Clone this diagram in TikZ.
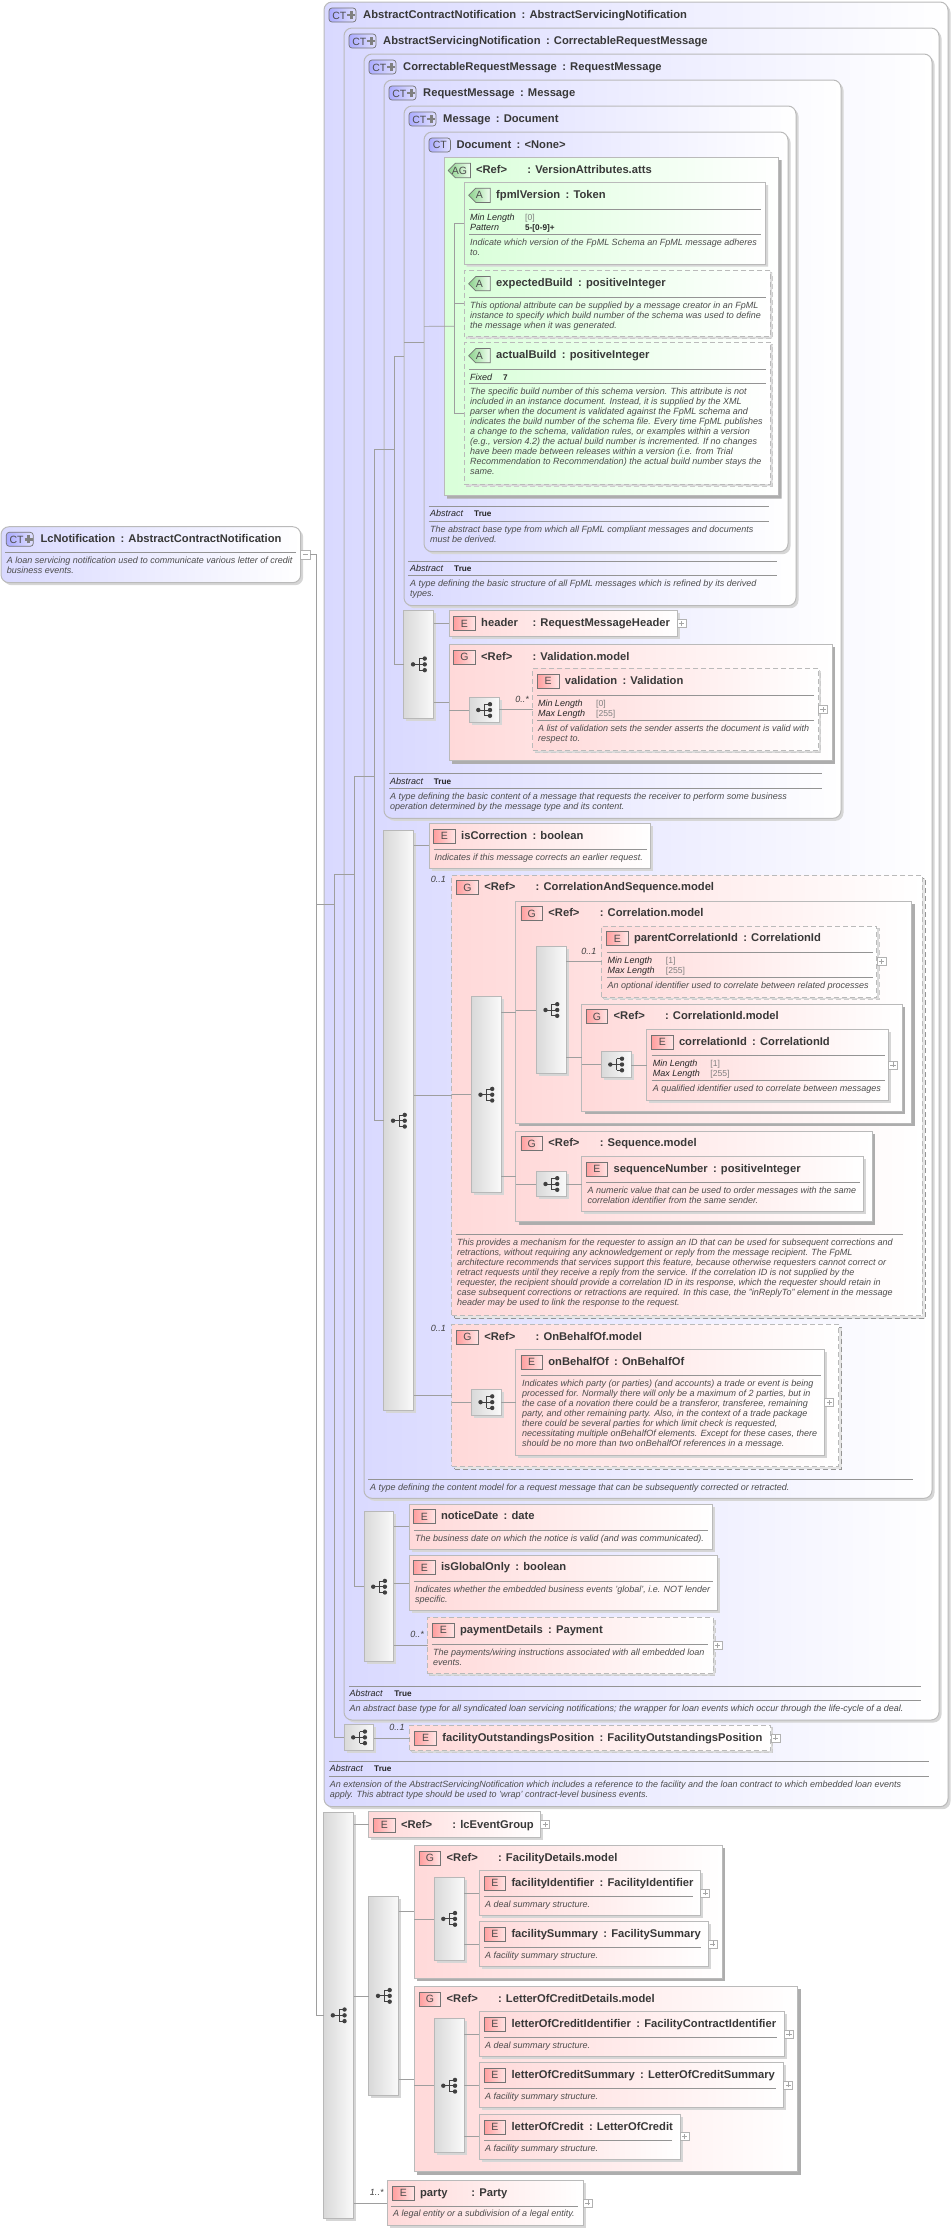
\documentclass[tikz,border=0pt]{standalone}
\usepackage{fontspec}
\setmainfont{Liberation Sans}
\usetikzlibrary{shapes.misc,shadows}

\definecolor{ctfill}{HTML}{D9D9FF}
\definecolor{elfill}{HTML}{FFD9D9}
\definecolor{agfill}{HTML}{D9FFD9}

\tikzset{
	softshadow/.style={general shadow={shadow xshift=2.5pt,shadow yshift=-2.5pt,fill=black!16}},
	hardshadow/.style={general shadow={shadow xshift=3pt,shadow yshift=-3pt,fill=black!32}},
	dashshadow/.style={general shadow={shadow xshift=3pt,shadow yshift=-3pt,fill=black!10,draw=black!42,line width=1pt,dash pattern=on 5pt off 3pt}},
	softdash/.style={general shadow={shadow xshift=2pt,shadow yshift=-2pt,fill=black!14,draw=black!20,line width=.8pt,dash pattern=on 5pt off 3pt}},
	xbox/.style={inner sep=0pt,outer sep=0pt,anchor=center,line width=1pt,draw=black!27},
	ctbox/.style={xbox,softshadow,rounded corners=8pt,left color=ctfill,right color=white},
	grpbox/.style={xbox,hardshadow,left color=elfill,right color=white},
	optgrp/.style={xbox,dashshadow,left color=elfill,right color=white,dash pattern=on 5pt off 3pt},
	elbox/.style={xbox,softshadow,left color=elfill,right color=white},
	optel/.style={xbox,softdash,left color=elfill,right color=white,dash pattern=on 5pt off 3pt},
	chamf/.style={chamfered rectangle,chamfered rectangle corners={north west,south west},chamfered rectangle sep=9pt},
	agbox/.style={xbox,chamf,hardshadow,left color=agfill,right color=white},
	atbox/.style={xbox,chamf,softshadow,left color=agfill,right color=white},
	optat/.style={xbox,chamf,softdash,left color=agfill,right color=white,dash pattern=on 5pt off 3pt},
	barbox/.style={xbox,softshadow,left color=black!15,right color=black!2,draw=black!28},
	icobase/.style={inner sep=0pt,outer sep=0pt,minimum height=14pt,line width=.7pt,draw=black!55,text=black!70,font=\fontsize{10.5}{11}\selectfont},
	icoel/.style={icobase,left color=red!38,right color=red!10},
	icoat/.style={icobase,chamfered rectangle,chamfered rectangle corners={north west,south west},chamfered rectangle sep=3.5pt,left color=green!60!black!45,right color=green!6},
	icoct/.style={icobase,rounded corners=3pt,left color=blue!33,right color=blue!12},
	ttltxt/.style={inner sep=0pt,anchor=base west,text=black!78,font=\bfseries\fontsize{11.2}{12}\selectfont},
	desctxt/.style={inner sep=0pt,anchor=north west,align=left,text=black!70,font=\itshape\fontsize{9}{10}\selectfont},
	keytxt/.style={inner sep=0pt,anchor=base west,text=black!85,font=\itshape\fontsize{9}{10}\selectfont},
	valtxt/.style={inner sep=0pt,anchor=base west,text=black!85,font=\bfseries\fontsize{8.2}{10}\selectfont},
	lentxt/.style={inner sep=0pt,anchor=base west,text=black!50,font=\fontsize{8.6}{10}\selectfont},
	multtxt/.style={inner sep=0pt,anchor=base east,text=black!75,font=\itshape\fontsize{9}{10}\selectfont},
	sepline/.style={draw=black!42,line width=.7pt},
	wire/.style={draw=black!38,line width=.7pt},
	plusbox/.style={inner sep=0pt,outer sep=0pt,anchor=west,minimum width=9pt,minimum height=8pt,draw=black!30,line width=.6pt,fill=white,
		path picture={\draw[black!35,line width=.6pt] ([xshift=-2.6pt]path picture bounding box.center) -- ([xshift=2.6pt]path picture bounding box.center) ([yshift=-2.6pt]path picture bounding box.center) -- ([yshift=2.6pt]path picture bounding box.center);}},
	minusbox/.style={inner sep=0pt,outer sep=0pt,anchor=west,minimum width=9.5pt,minimum height=8.5pt,draw=black!30,line width=.6pt,fill=white,
		path picture={\draw[black!35,line width=.6pt] ([xshift=-2.6pt]path picture bounding box.center) -- ([xshift=2.6pt]path picture bounding box.center);}},
	seqmark/.pic={
		\draw[black!75,line width=.8pt] (-5.7,0) -- (.6,0) (.6,-5.8) -- (.6,5.8) (.6,-5.8) -- (6,-5.8) (.6,0) -- (6,0) (.6,5.8) -- (6,5.8);
		\fill[black!75] (-5.7,0) circle (2.2) (6,-5.8) circle (2.2) (6,0) circle (2.2) (6,5.8) circle (2.2);
	}
}

\newlength\namew
\newcommand{\ttl}[2]{\settowidth\namew{#1}\ifdim\namew<46pt\setlength\namew{46pt}\fi\makebox[\namew][l]{#1}\hspace{5.4pt}: #2}
\newcommand{\ctplus}{\hspace{1pt}\rlap{\raisebox{2.9pt}{\textcolor{black!50}{\rule{8pt}{2.6pt}}}}\hspace{2.7pt}\raisebox{0pt}{\textcolor{black!50}{\rule{2.6pt}{8.4pt}}}\hspace{2.7pt}}
% boxes: style, name, x1, y1, x2, y2
\newcommand{\xbox}[6]{\node[#1,minimum width={(#5-#3)*1pt},minimum height={(#6-#4)*1pt}] (#2) at ({(#3+#5)/2},{(#4+#6)/2}) {};}
\newcommand{\head}[7]{\node[#2,minimum width=21.5pt] (#1i) at ({#4+10.75},{#5+7}) {#3};
	\node[ttltxt] (#1n) at ({#4+27.3},{#5+10}) {\ttl{#6}{#7}};}
\newcommand{\cthead}[5]{\node[icoct,minimum width=27pt] (#1i) at ({#2+13.5},{#3+7}) {CT\ctplus};
	\node[ttltxt] (#1n) at ({#2+34},{#3+10}) {\ttl{#4}{#5}};}
\newcommand{\desc}[4]{\node[desctxt] (#1) at (#2,{#3-7}) {\rule{0pt}{7pt}#4};}
\newcommand{\divline}[3]{\draw[sepline] (#1,#3) -- (#2,#3);}
\newcommand{\kvrow}[6]{\node[keytxt] (#1k) at (#2,#3) {#4}; \node[valtxt] (#1v) at (#5,#3) {#6};}
\newcommand{\lenrows}[6]{\node[keytxt] (#1a) at (#2,#3) {Min Length}; \node[lentxt] (#1b) at (#4,#3) {[#5]};
	\node[keytxt] (#1c) at (#2,{#3+10}) {Max Length}; \node[lentxt] (#1d) at (#4,{#3+10}) {[#6]};}
\newcommand{\plusat}[2]{\node[plusbox] (#1) at (#2.east) {};}
\newcommand{\seqbar}[5]{\xbox{barbox}{#1}{#2}{#3}{#4}{#5}\pic at (#1.center) {seqmark};}
\newcommand{\wire}[2]{\draw[wire] (#1.east |- #2.west) -- (#2.west);}
\newcommand{\wirein}[2]{\draw[wire] (#1.west |- #2.west) -- (#2.west);}

\begin{document}
\begin{tikzpicture}[x=1pt,y=-1pt]
	\useasboundingbox (0,0) rectangle (951,2231);

	% global element
	\xbox{ctbox}{lc}{1}{526.7}{300.7}{582.7}
	\cthead{lc}{6.3}{532.3}{LcNotification}{AbstractContractNotification}
	\divline{5.3}{296}{552.3}
	\desc{lcd}{6.7}{563.3}{A loan servicing notification used to communicate various letter of credit\\business events.}
	\node[minusbox] (lcm) at (lc.east) {};

	% nested complex types
	\xbox{ctbox}{ct1}{324}{2}{948}{1806.7}
	\cthead{ct1}{329}{8}{AbstractContractNotification}{AbstractServicingNotification}
	\xbox{ctbox}{ct2}{344}{28}{939}{1720}
	\cthead{ct2}{349}{34}{AbstractServicingNotification}{CorrectableRequestMessage}
	\xbox{ctbox}{ct3}{364}{54}{932}{1498.3}
	\cthead{ct3}{369}{60}{CorrectableRequestMessage}{RequestMessage}
	\xbox{ctbox}{req}{384}{80}{841}{818.3}
	\cthead{req}{389}{86}{RequestMessage}{Message}
	\xbox{ctbox}{msg}{404}{106}{796}{605.7}
	\cthead{msg}{409}{112}{Message}{Document}
	\xbox{ctbox}{doc}{424}{132}{788}{551.7}
	\head{doc}{icoct}{CT}{429}{138}{Document}{<None>}

	% attributes
	\xbox{agbox}{ag}{444}{157}{778.5}{495.7}
	\head{ag}{icoat}{AG}{448.6}{163.5}{<Ref>}{VersionAttributes.atts}
	\xbox{atbox}{a1}{464}{182.7}{765.5}{264}
	\head{a1}{icoat}{A}{468.7}{188.3}{fpmlVersion}{Token}
	\divline{469}{761}{209.3}
	\node[keytxt] (a1k) at (470,220) {Min Length};
	\node[lentxt] (a1l) at (525,220) {[0]};
	\kvrow{a1p}{470}{230}{Pattern}{525}{5-[0-9]+}
	\divline{469}{761}{234.3}
	\desc{a1d}{470}{245}{Indicate which version of the FpML Schema an FpML message adheres\\to.}
	\xbox{optat}{a2}{464}{270.7}{770}{336.7}
	\head{a2}{icoat}{A}{468.7}{276.7}{expectedBuild}{positiveInteger}
	\divline{469}{766}{297.3}
	\desc{a2d}{470}{308}{This optional attribute can be supplied by a message creator in an FpML\\instance to specify which build number of the schema was used to define\\the message when it was generated.}
	\xbox{optat}{a3}{464}{342.7}{770.5}{484}
	\head{a3}{icoat}{A}{468.7}{348.7}{actualBuild}{positiveInteger}
	\divline{469}{766}{369.3}
	\kvrow{a3f}{470}{380}{Fixed}{503}{7}
	\divline{469}{766}{383.3}
	\desc{a3d}{470}{394}{The specific build number of this schema version. This attribute is not\\included in an instance document. Instead, it is supplied by the XML\\parser when the document is validated against the FpML schema and\\indicates the build number of the schema file. Every time FpML publishes\\a change to the schema, validation rules, or examples within a version\\(e.g., version 4.2) the actual build number is incremented. If no changes\\have been made between releases within a version (i.e. from Trial\\Recommendation to Recommendation) the actual build number stays the\\same.}

	% document and message footers
	\divline{428.7}{769}{506.3}
	\kvrow{doca}{430}{516.7}{Abstract}{474}{True}
	\divline{428.7}{769}{521.7}
	\desc{docd}{430}{532}{The abstract base type from which all FpML compliant messages and documents\\must be derived.}
	\divline{408.4}{777}{561.3}
	\kvrow{msga}{410}{571.7}{Abstract}{454}{True}
	\divline{408.4}{777}{575.7}
	\desc{msgd}{410}{586.7}{A type defining the basic structure of all FpML messages which is refined by its derived\\types.}

	% request message content
	\seqbar{sb1}{403.8}{610.7}{433.7}{718}
	\xbox{elbox}{hdr}{449}{610.7}{677}{636.7}
	\head{hdr}{icoel}{E}{453.7}{616.7}{header}{RequestMessageHeader}
	\plusat{hdrp}{hdr}
	\xbox{grpbox}{val}{449}{644}{832}{760.7}
	\head{val}{icoel}{G}{453.7}{650}{<Ref>}{Validation.model}
	\seqbar{sb1b}{469}{697.3}{499}{722.7}
	\node[multtxt] (valm) at (529,702) {0..*};
	\xbox{optel}{vld}{532.8}{668.7}{818.5}{750.7}
	\head{vld}{icoel}{E}{537.4}{674.3}{validation}{Validation}
	\divline{537.4}{814}{695.3}
	\lenrows{vldl}{537.8}{706}{596}{0}{255}
	\divline{537.4}{814}{720.3}
	\desc{vldd}{537.8}{731.3}{A list of validation sets the sender asserts the document is valid with\\respect to.}
	\plusat{vldp}{vld}
	\divline{389}{822}{773.3}
	\kvrow{reqa}{390}{784}{Abstract}{433.7}{True}
	\divline{389}{822}{788.3}
	\desc{reqd}{390}{799.3}{A type defining the basic content of a message that requests the receiver to perform some business\\operation determined by the message type and its content.}

	% correctable request content
	\seqbar{sb2}{383.8}{830.7}{413.7}{1410.7}
	\xbox{elbox}{isc}{429}{823}{650}{868.3}
	\head{isc}{icoel}{E}{433.7}{829.3}{isCorrection}{boolean}
	\divline{433.7}{646.5}{849.3}
	\desc{iscd}{434.5}{860}{Indicates if this message corrects an earlier request.}

	\node[multtxt] (csm) at (446,882.3) {0..1};
	\xbox{optgrp}{cs}{451.8}{875}{922.2}{1315.7}
	\head{cs}{icoel}{G}{456.8}{880.7}{<Ref>}{CorrelationAndSequence.model}
	\seqbar{sb2a}{471.4}{996.7}{501}{1192.7}
	\xbox{grpbox}{cor}{515.9}{901}{911.8}{1123.3}
	\head{cor}{icoel}{G}{520.9}{906.7}{<Ref>}{Correlation.model}
	\seqbar{sb2b}{536.2}{946.7}{566.2}{1073.3}
	\node[multtxt] (pcm) at (596.5,954) {0..1};
	\xbox{optel}{pci}{601.5}{926}{876.9}{997.3}
	\head{pci}{icoel}{E}{606.5}{931.7}{parentCorrelationId}{CorrelationId}
	\divline{606.5}{873}{952.3}
	\lenrows{pcil}{607.3}{963.3}{665.7}{1}{255}
	\divline{606.5}{873}{977.3}
	\desc{pcid}{607.3}{988.3}{An optional identifier used to correlate between related processes}
	\plusat{pcip}{pci}
	\xbox{grpbox}{cig}{581.6}{1004}{902.2}{1111}
	\head{cig}{icoel}{G}{586.2}{1009.7}{<Ref>}{CorrelationId.model}
	\seqbar{sb2c}{601}{1051.7}{631}{1077.3}
	\xbox{elbox}{cid}{646.5}{1029}{888.4}{1100.7}
	\head{cid}{icoel}{E}{651.5}{1035}{correlationId}{CorrelationId}
	\divline{651.5}{884.6}{1055.3}
	\lenrows{cidl}{652.6}{1066}{710.2}{1}{255}
	\divline{651.5}{884.6}{1080.3}
	\desc{cidd}{652.6}{1091}{A qualified identifier used to correlate between messages}
	\plusat{cidp}{cid}
	\xbox{grpbox}{sqg}{515.9}{1131}{872.3}{1221.7}
	\head{sqg}{icoel}{G}{520.9}{1136.7}{<Ref>}{Sequence.model}
	\seqbar{sb2d}{536.2}{1171.3}{566.2}{1196.7}
	\xbox{elbox}{sqn}{581.6}{1156}{863.8}{1211.7}
	\head{sqn}{icoel}{E}{586.2}{1162}{sequenceNumber}{positiveInteger}
	\divline{586.2}{860}{1182.3}
	\desc{sqnd}{587.3}{1193.3}{A numeric value that can be used to order messages with the same\\correlation identifier from the same sender.}
	\divline{455.6}{903}{1234.3}
	\desc{csd}{456.8}{1245}{This provides a mechanism for the requester to assign an ID that can be used for subsequent corrections and\\retractions, without requiring any acknowledgement or reply from the message recipient. The FpML\\architecture recommends that services support this feature, because otherwise requesters cannot correct or\\retract requests until they receive a reply from the service. If the correlation ID is not supplied by the\\requester, the recipient should provide a correlation ID in its response, which the requester should retain in\\case subsequent corrections or retractions are required. In this case, the "inReplyTo" element in the message\\header may be used to link the response to the request.}

	\node[multtxt] (obm) at (446,1331) {0..1};
	\xbox{optgrp}{obg}{451.8}{1324}{838.5}{1466}
	\head{obg}{icoel}{G}{456.8}{1330}{<Ref>}{OnBehalfOf.model}
	\seqbar{sb2e}{471.4}{1389.3}{501}{1415}
	\xbox{elbox}{obo}{515.9}{1349}{824.7}{1455.7}
	\head{obo}{icoel}{E}{520.9}{1355}{onBehalfOf}{OnBehalfOf}
	\divline{520.9}{820.8}{1375.3}
	\desc{obod}{522}{1386}{Indicates which party (or parties) (and accounts) a trade or event is being\\processed for. Normally there will only be a maximum of 2 parties, but in\\the case of a novation there could be a transferor, transferee, remaining\\party, and other remaining party. Also, in the context of a trade package\\there could be several parties for which limit check is requested,\\necessitating multiple onBehalfOf elements. Except for these cases, there\\should be no more than two onBehalfOf references in a message.}
	\plusat{obop}{obo}
	\divline{368.4}{912.6}{1479.3}
	\desc{ct3d}{370}{1490}{A type defining the content model for a request message that can be subsequently corrected or retracted.}

	% servicing notification content
	\seqbar{sb3}{364}{1511.7}{393.8}{1661.7}
	\xbox{elbox}{ntd}{409}{1504}{712}{1549.3}
	\head{ntd}{icoel}{E}{413.5}{1509.7}{noticeDate}{date}
	\divline{413.5}{708}{1530.7}
	\desc{ntdd}{415}{1541}{The business date on which the notice is valid (and was communicated).}
	\xbox{elbox}{igo}{409}{1555}{717.2}{1610.7}
	\head{igo}{icoel}{E}{413.5}{1560.7}{isGlobalOnly}{boolean}
	\divline{413.5}{713}{1581.3}
	\desc{igod}{415}{1592}{Indicates whether the embedded business events 'global', i.e. NOT lender\\specific.}
	\node[multtxt] (paym) at (424,1637.3) {0..*};
	\xbox{optel}{pay}{427.7}{1617.7}{713}{1673.7}
	\head{pay}{icoel}{E}{432.5}{1623.3}{paymentDetails}{Payment}
	\divline{431.7}{708.3}{1644.3}
	\desc{payd}{433}{1655}{The payments/wiring instructions associated with all embedded loan\\events.}
	\plusat{payp}{pay}
	\divline{349}{920.8}{1686.3}
	\kvrow{ct2a}{349.4}{1696.7}{Abstract}{394.2}{True}
	\divline{349}{920.8}{1700.3}
	\desc{ct2d}{349.4}{1711}{An abstract base type for all syndicated loan servicing notifications; the wrapper for loan events which occur through the life-cycle of a deal.}

	% contract notification content
	\seqbar{sb4}{344.2}{1724.7}{373.6}{1750}
	\node[multtxt] (fopm) at (404.7,1730) {0..1};
	\xbox{optel}{fop}{409.5}{1725}{770.8}{1750.7}
	\head{fop}{icoel}{E}{414.8}{1731}{facilityOutstandingsPosition}{FacilityOutstandingsPosition}
	\plusat{fopp}{fop}
	\divline{329}{929}{1761.7}
	\kvrow{ct1a}{329.7}{1771.7}{Abstract}{374}{True}
	\divline{329}{929}{1776.3}
	\desc{ct1d}{329.7}{1787.3}{An extension of the AbstractServicingNotification which includes a reference to the facility and the loan contract to which embedded loan events\\apply. This abtract type should be used to 'wrap' contract-level business events.}

	% local content
	\seqbar{sb5}{323.6}{1812.3}{353.5}{2218.3}
	\xbox{elbox}{lce}{368.8}{1811.7}{540.6}{1837.3}
	\head{lce}{icoel}{E}{373.6}{1818.3}{<Ref>}{lcEventGroup}
	\plusat{lcep}{lce}
	\seqbar{sb5a}{368.8}{1896.7}{398.6}{2095}
	\xbox{grpbox}{fdm}{414.4}{1845}{722}{1978.3}
	\head{fdm}{icoel}{G}{419.2}{1851}{<Ref>}{FacilityDetails.model}
	\seqbar{sb5b}{434}{1877.7}{464}{1960}
	\xbox{elbox}{fid}{479.3}{1870}{700.6}{1915.7}
	\head{fid}{icoel}{E}{484}{1876}{facilityIdentifier}{FacilityIdentifier}
	\divline{484}{693}{1896.7}
	\desc{fidd}{485}{1907}{A deal summary structure.}
	\plusat{fidp}{fid}
	\xbox{elbox}{fsm}{479.3}{1921}{708.3}{1966.7}
	\head{fsm}{icoel}{E}{484}{1927}{facilitySummary}{FacilitySummary}
	\divline{484}{700.6}{1947.3}
	\desc{fsmd}{485}{1958}{A facility summary structure.}
	\plusat{fsmp}{fsm}
	\xbox{grpbox}{lcm2}{414.4}{1986}{797.8}{2171.7}
	\head{lcm2}{icoel}{G}{419.2}{1992}{<Ref>}{LetterOfCreditDetails.model}
	\seqbar{sb5c}{434}{2018.7}{464}{2152.7}
	\xbox{elbox}{loi}{479.3}{2011}{784.5}{2056.7}
	\head{loi}{icoel}{E}{484}{2017}{letterOfCreditIdentifier}{FacilityContractIdentifier}
	\divline{484}{776.9}{2037.7}
	\desc{loid}{485}{2048}{A deal summary structure.}
	\plusat{loip}{loi}
	\xbox{elbox}{los}{479.3}{2062}{783.7}{2107.7}
	\head{los}{icoel}{E}{484}{2068}{letterOfCreditSummary}{LetterOfCreditSummary}
	\divline{484}{775.6}{2088.7}
	\desc{losd}{485}{2099}{A facility summary structure.}
	\plusat{losp}{los}
	\xbox{elbox}{loc}{479.3}{2114}{680}{2159.3}
	\head{loc}{icoel}{E}{484}{2120}{letterOfCredit}{LetterOfCredit}
	\divline{484}{672}{2140.7}
	\desc{locd}{485}{2151}{A facility summary structure.}
	\plusat{locp}{loc}
	\node[multtxt] (ptym) at (383.7,2195) {1..*};
	\xbox{elbox}{pty}{387.3}{2180}{583.3}{2225.7}
	\head{pty}{icoel}{E}{392.6}{2186}{party}{Party}
	\divline{391.4}{578}{2206.3}
	\desc{ptyd}{393}{2216.7}{A legal entity or a subdivision of a legal entity.}
	\plusat{ptyp}{pty}

	% connectors
	\coordinate (bk1) at (454.6,326.3);
	\coordinate (bk2) at (394.3,449.2);
	\coordinate (bk3) at (374,449.2);
	\coordinate (bk4) at (374,776.2);
	\coordinate (bk5) at (354.3,776.2);
	\coordinate (bk6) at (354.3,874);
	\coordinate (bk7) at (334.3,874);
	\coordinate (bk8) at (334.3,904.3);
	\coordinate (bk9) at (316.7,904.3);
	\draw[wire] (lcm.east) -| (bk9) |- (sb5.west);
	\draw[wire] (bk9) -- (bk8);
	\draw[wire] (bk7) -- (bk6);
	\draw[wire] (bk7) |- (sb4.west);
	\draw[wire] (bk5) -- (bk4);
	\draw[wire] (bk5) |- (sb3.west);
	\draw[wire] (bk3) -- (bk2);
	\draw[wire] (bk3) |- (sb2.west);
	\draw[wire] (msg.west) -| (bk2) |- (sb1.west);
	\draw[wire] (msg.west |- doc.west) -- (doc.west);
	\draw[wire] (doc.west |- ag.west) -- (bk1);
	\draw[wire] (a1.west) -| (bk1) |- (a3.west);
	\draw[wire] (a2.west) -- (a2.west -| bk1);
	\wire{sb1}{hdr}
	\wire{sb1}{val}
	\wirein{val}{sb1b}
	\wire{sb1b}{vld}
	\wire{sb2}{isc}
	\wire{sb2}{cs}
	\wire{sb2}{obg}
	\wirein{cs}{sb2a}
	\wire{sb2a}{cor}
	\wire{sb2a}{sqg}
	\wirein{cor}{sb2b}
	\wire{sb2b}{pci}
	\wire{sb2b}{cig}
	\wirein{cig}{sb2c}
	\wire{sb2c}{cid}
	\wirein{sqg}{sb2d}
	\wire{sb2d}{sqn}
	\wirein{obg}{sb2e}
	\wire{sb2e}{obo}
	\wire{sb3}{ntd}
	\wire{sb3}{igo}
	\wire{sb3}{pay}
	\wire{sb4}{fop}
	\wire{sb5}{lce}
	\wire{sb5}{sb5a}
	\wire{sb5}{pty}
	\wire{sb5a}{fdm}
	\wire{sb5a}{lcm2}
	\wirein{fdm}{sb5b}
	\wire{sb5b}{fid}
	\wire{sb5b}{fsm}
	\wirein{lcm2}{sb5c}
	\wire{sb5c}{loi}
	\wire{sb5c}{los}
	\wire{sb5c}{loc}
\end{tikzpicture}
\end{document}
